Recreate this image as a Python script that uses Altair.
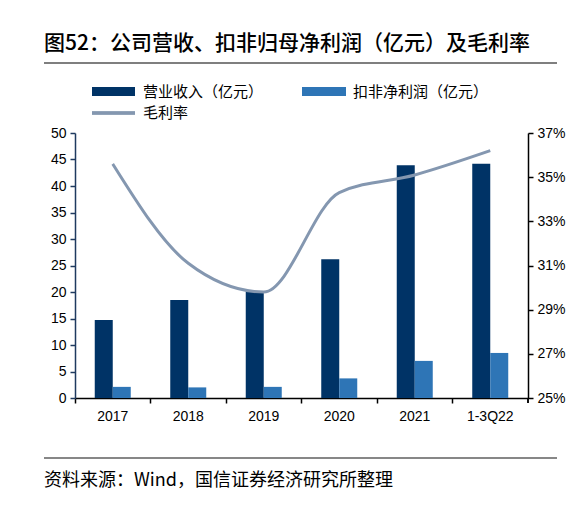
import altair as alt
import pandas as pd

categories = ["2017", "2018", "2019", "2020", "2021", "1-3Q22"]
revenue = [14.7, 18.5, 20.1, 26.2, 43.9, 44.2]
profit = [2.1, 2.0, 2.1, 3.7, 7.0, 8.5]
margin = [0.356, 0.311, 0.298, 0.343, 0.351, 0.362]

series_names = ["营业收入（亿元）", "扣非净利润（亿元）", "毛利率"]
title_text = "图52：公司营收、扣非归母净利润（亿元）及毛利率"
source_text = "资料来源：Wind，国信证券经济研究所整理"
left_ticks = [0, 5, 10, 15, 20, 25, 30, 35, 40, 45, 50]
right_ticks = [0.25, 0.27, 0.29, 0.31, 0.33, 0.35, 0.37]

C_DARK = "#003366"
C_LIGHT = "#2E75B6"
C_LINE = "#8497B0"
CJK = "Noto Sans CJK SC"
LAT = "Liberation Sans"

df = pd.DataFrame({"cat": categories, "rev": revenue, "pro": profit, "mar": margin})

x_axis = alt.Axis(labelAngle=0, bandPosition=0, ticks=True, tickSize=5,
                  domainColor="black", tickColor="black", labelColor="black",
                  labelFont=LAT, labelFontSize=14, labelPadding=6,
                  domainWidth=1.5, tickWidth=1.5, grid=False)
xscale = alt.Scale(paddingInner=0, paddingOuter=0)
y_axis = alt.Axis(values=left_ticks, tickCount=11,
                  labelOverlap=False, tickSize=5, grid=False,
                  domainColor="#1f3a5f", tickColor="#1f3a5f", labelColor="black",
                  labelFont=LAT, labelFontSize=14, labelPadding=4,
                  domainWidth=1.5, tickWidth=1.5)
yscale = alt.Scale(domain=[0, 50], nice=False)

base = alt.Chart(df)
bar_rev = base.mark_bar(width=18, xOffset=-9, color=C_DARK).encode(
    x=alt.X("cat:N", sort=categories, title=None, scale=xscale, axis=x_axis),
    y=alt.Y("rev:Q", scale=yscale, title=None, axis=y_axis))
bar_pro = base.mark_bar(width=18, xOffset=9, color=C_LIGHT).encode(
    x=alt.X("cat:N", sort=categories, title=None, scale=xscale, axis=x_axis),
    y=alt.Y("pro:Q", scale=yscale, title=None, axis=y_axis))
bars = alt.layer(bar_rev, bar_pro)

line = base.mark_line(color=C_LINE, strokeWidth=3, interpolate="monotone").encode(
    x=alt.X("cat:N", sort=categories, title=None, scale=xscale, axis=x_axis),
    y=alt.Y("mar:Q", scale=alt.Scale(domain=[0.25, 0.37], nice=False), title=None,
            axis=alt.Axis(orient="right", values=right_ticks,
                          format=".0%", labelOverlap=False, tickSize=5, grid=False,
                          domainColor="black", tickColor="black", labelColor="black",
                          labelFont=LAT, labelFontSize=14, labelPadding=4,
                          domainWidth=1.5, tickWidth=1.5)))

main = alt.layer(bars, line).resolve_scale(y="independent")

# decorations (title, legend, rules, source)
d_title = pd.DataFrame({"t": [title_text]})
title = alt.Chart(d_title).mark_text(align="left", baseline="middle", font=CJK,
                                     fontSize=21, fontWeight=500, color="black").encode(
    x=alt.value(-31), y=alt.value(-89), text="t:N")

d_rules = pd.DataFrame({"k": ["top", "bottom"]})
rule_top = alt.Chart(d_rules).mark_rule(color="#7f7f7f", strokeWidth=2).encode(
    x=alt.value(-31), x2=alt.value(482), y=alt.value(-70))
rule_bot = alt.Chart(d_rules).mark_rule(color="#7f7f7f", strokeWidth=1.5).encode(
    x=alt.value(-31), x2=alt.value(482), y=alt.value(325))
end_tick = alt.Chart(d_rules).mark_rule(color="black", strokeWidth=1.5).encode(
    x=alt.value(453), y=alt.value(265), y2=alt.value(270))

d_src = pd.DataFrame({"t": [source_text]})
source = alt.Chart(d_src).mark_text(align="left", baseline="middle", font=CJK,
                                    fontSize=18, color="black").encode(
    x=alt.value(-31), y=alt.value(348), text="t:N")

d_leg = pd.DataFrame({"t": series_names})
leg_r1 = alt.Chart(d_leg).mark_rect(color=C_DARK).encode(
    x=alt.value(17), x2=alt.value(60), y=alt.value(-46), y2=alt.value(-37))
leg_r2 = alt.Chart(d_leg).mark_rect(color=C_LIGHT).encode(
    x=alt.value(227), x2=alt.value(271), y=alt.value(-46), y2=alt.value(-37))
leg_l = alt.Chart(d_leg).mark_rule(color=C_LINE, strokeWidth=3).encode(
    x=alt.value(17), x2=alt.value(60), y=alt.value(-20))
leg_t1 = alt.Chart(pd.DataFrame({"t": [series_names[0]]})).mark_text(
    align="left", baseline="middle", font=CJK, fontSize=15, color="black").encode(
    x=alt.value(68), y=alt.value(-41), text="t:N")
leg_t2 = alt.Chart(pd.DataFrame({"t": [series_names[1]]})).mark_text(
    align="left", baseline="middle", font=CJK, fontSize=15, color="black").encode(
    x=alt.value(278), y=alt.value(-41), text="t:N")
leg_t3 = alt.Chart(pd.DataFrame({"t": [series_names[2]]})).mark_text(
    align="left", baseline="middle", font=CJK, fontSize=15, color="black").encode(
    x=alt.value(68), y=alt.value(-20), text="t:N")

chart = alt.layer(main, title, rule_top, rule_bot, end_tick, source,
                  leg_r1, leg_r2, leg_l, leg_t1, leg_t2, leg_t3).properties(
    width=453, height=265,
    padding={"left": 67, "top": 125, "right": 48, "bottom": 117},
    autosize=alt.AutoSizeParams(type="none"),
    background="white",
).configure_view(stroke=None)

chart.save("out.html", embed_options={"renderer": "svg", "actions": False})
